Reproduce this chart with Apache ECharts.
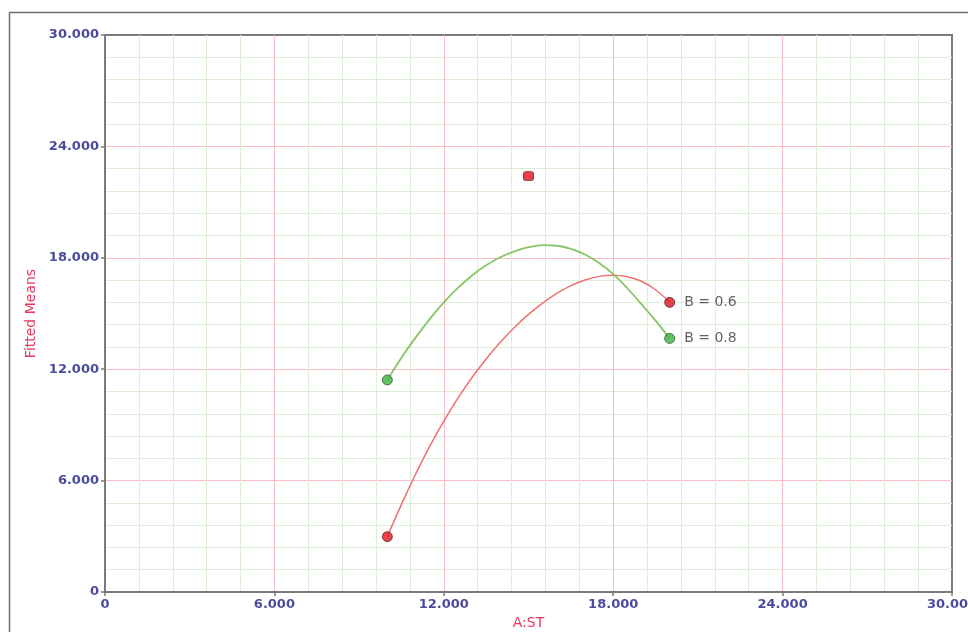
<!DOCTYPE html>
<html>
<head>
<meta charset="utf-8">
<script src="https://cdn.jsdelivr.net/npm/echarts@6/dist/echarts.min.js"></script>
<style>
  html, body { margin: 0; padding: 0; background: #fff; }
  #chart { width: 968px; height: 632px; }
</style>
</head>
<body>
<div id="chart"></div>
<script>
// Interaction plot: fitted means of the response against factor A (ST),
// one curve per level of factor B.
const stLevels = [10, 10.5, 11, 11.5, 12, 12.5, 13, 13.5, 14, 14.5, 15,
                  15.5, 16, 16.5, 17, 17.5, 18, 18.5, 19, 19.5, 20];
const meansB06 = [2.98, 4.72, 6.34, 7.84, 9.2, 10.44, 11.55, 12.55, 13.45, 14.25, 14.95,
                  15.56, 16.08, 16.5, 16.8, 17.0, 17.06, 16.98, 16.74, 16.28, 15.6];
const meansB08 = [11.42, 12.62, 13.7, 14.7, 15.6, 16.38, 17.05, 17.6, 18.03, 18.35, 18.57,
                  18.68, 18.65, 18.48, 18.18, 17.72, 17.12, 16.36, 15.5, 14.62, 13.66];

const designPoint = [15, 22.4];
const seriesNames = ['B = 0.6', 'B = 0.8'];
const axisTicks = [0, 6, 12, 18, 24, 30];

const pairs = (xs, ys) => xs.map((x, i) => [x, ys[i]]);
const ends = (xs, ys) => [[xs[0], ys[0]], [xs[xs.length - 1], ys[ys.length - 1]]];

const labelFmt = v => (v === 0 ? '0' : v.toFixed(3));
const tickColor = '#4b4b9e';
const nameColor = '#e8385c';

function valueAxis(name, isX) {
  return {
    type: 'value',
    min: axisTicks[0],
    max: axisTicks[axisTicks.length - 1],
    interval: 6,
    name: name,
    nameLocation: 'middle',
    nameGap: isX ? 24 : 60,
    nameTextStyle: { color: nameColor, fontFamily: 'DejaVu Sans', fontSize: 14 },
    axisLine: { show: true, onZero: false, lineStyle: { color: '#7a7a7a', width: 2 } },
    axisTick: { show: true, length: 4, lineStyle: { color: '#7a7a7a', width: 1.5 } },
    axisLabel: {
      formatter: labelFmt,
      color: tickColor,
      fontFamily: 'DejaVu Sans',
      fontSize: 13,
      fontWeight: 'bold',
      margin: 6
    },
    splitLine: { show: true, showMinLine: false, showMaxLine: false,
                 lineStyle: { color: '#f7bcc4', width: 1 } },
    minorTick: { show: true, splitNumber: 5, length: 0 },
    minorSplitLine: { show: true, lineStyle: { color: '#dcefd6', width: 1 } }
  };
}

const chart = echarts.init(document.getElementById('chart'));
chart.setOption({
  animation: false,
  backgroundColor: '#ffffff',
  graphic: [{
    type: 'rect',
    shape: { x: 9.5, y: 12.5, width: 1000, height: 700 },
    style: { fill: 'none', stroke: '#6e6e6e', lineWidth: 1.5 },
    z: -1
  }],
  grid: {
    left: 105, right: 16, top: 35, bottom: 40,
    containLabel: false, outerBoundsMode: 'none',
    show: true, borderColor: '#7a7a7a', borderWidth: 2, backgroundColor: '#ffffff'
  },
  xAxis: valueAxis('A:ST', true),
  yAxis: valueAxis('Fitted Means', false),
  series: [
    {
      type: 'line', name: seriesNames[0], data: pairs(stLevels, meansB06),
      smooth: 0.4, symbol: 'none',
      lineStyle: { color: '#f07070', width: 1.5 }, z: 3
    },
    {
      type: 'line', name: seriesNames[1], data: pairs(stLevels, meansB08),
      smooth: 0.4, symbol: 'none',
      lineStyle: { color: '#86c666', width: 1.8 }, z: 3
    },
    {
      type: 'scatter', data: ends(stLevels, meansB06), symbol: 'circle', symbolSize: 10,
      itemStyle: { color: '#e3141c', borderColor: '#5a2a2a', borderWidth: 1 }, z: 5,
      label: {
        show: true, position: 'right', distance: 9, color: '#3a3a3a',
        fontFamily: 'DejaVu Sans', fontSize: 14,
        formatter: p => (p.dataIndex === 1 ? seriesNames[0] : '')
      }
    },
    {
      type: 'scatter', data: ends(stLevels, meansB08), symbol: 'circle', symbolSize: 10,
      itemStyle: { color: '#3cb33c', borderColor: '#2f5a2f', borderWidth: 1 }, z: 5,
      label: {
        show: true, position: 'right', distance: 9, color: '#3a3a3a',
        fontFamily: 'DejaVu Sans', fontSize: 14,
        formatter: p => (p.dataIndex === 1 ? seriesNames[1] : '')
      }
    },
    {
      type: 'scatter', data: [designPoint], symbol: 'roundRect', symbolSize: [10, 9],
      itemStyle: { color: '#e3141c', borderColor: '#5a2a2a', borderWidth: 1 }, z: 5
    }
  ]
});
</script>
</body>
</html>
